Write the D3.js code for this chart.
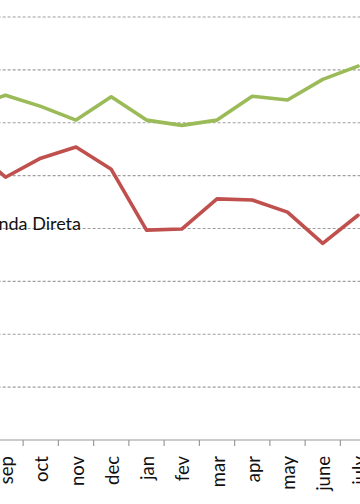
<!DOCTYPE html>
<html><head><meta charset="utf-8">
<script src="https://cdn.jsdelivr.net/npm/d3@7"></script>
<style>html,body{margin:0;padding:0;background:#fff;overflow:hidden}</style>
</head><body><svg id="c" width="360" height="504"></svg>
<script>
// Categories (aug lies just off the left edge of the cropped view)
const months = ["aug","sep","oct","nov","dec","jan","fev","mar","apr","may","june","july"];
// Green series values
const greenValues = [63.0, 65.2, 63.1, 60.5, 64.9, 60.5, 59.5, 60.5, 65.0, 64.3, 68.2, 70.7];
// Red series (Venda Direta) values
const redValues = [55.5, 49.7, 53.3, 55.4, 51.2, 39.7, 39.9, 45.6, 45.4, 43.1, 37.2, 42.5];
// Gridline tick values
const gridTicks = [10, 20, 30, 40, 50, 60, 70, 80, 90];
const seriesLabel = "Venda Direta";

const svg = d3.select("#c");
const W = 360, H = 504;
const step = 35.25;
const x0 = 5.5 - step * 1.5;
const x = d3.scaleBand().domain(months).range([x0, x0 + step * months.length]).padding(0);
const y = d3.scaleLinear().domain([0, 80]).range([440, 17]);
const cx = m => x(m) + x.bandwidth() / 2;

// gridlines
svg.append("g").selectAll("line").data(gridTicks).join("line")
  .attr("x1", x0).attr("x2", x0 + step * months.length + 40)
  .attr("y1", d => y(d)).attr("y2", d => y(d))
  .attr("stroke", "#9e9e9e").attr("stroke-width", 1.2)
  .attr("stroke-dasharray", "3,2");

// x axis line
svg.append("line").attr("x1", x0).attr("x2", W + 40)
  .attr("y1", y(0)).attr("y2", y(0))
  .attr("stroke", "#9a9a9a").attr("stroke-width", 1.2);

// ticks at category boundaries
svg.append("g").selectAll("line").data(months).join("line")
  .attr("x1", d => x(d)).attr("x2", d => x(d))
  .attr("y1", y(0)).attr("y2", y(0) + 6)
  .attr("stroke", "#9a9a9a").attr("stroke-width", 1.2);

// x labels
svg.append("g").selectAll("text").data(months).join("text")
  .attr("transform", d => `translate(${cx(d) + 7.5},${y(0) + 16}) rotate(-90)`)
  .attr("text-anchor", "end")
  .attr("font-family", "Lato, 'Open Sans', sans-serif")
  .attr("font-size", 18.5)
  .attr("fill", "#111")
  .text(d => d);

const line = d3.line().x((d, i) => cx(months[i])).y(d => y(d));

svg.append("path").datum(greenValues).attr("d", line)
  .attr("fill", "none").attr("stroke", "#9BBB59").attr("stroke-width", 3.6)
  .attr("stroke-linejoin", "round").attr("stroke-linecap", "round");

svg.append("path").datum(redValues).attr("d", line)
  .attr("fill", "none").attr("stroke", "#C0504D").attr("stroke-width", 3.6)
  .attr("stroke-linejoin", "round").attr("stroke-linecap", "round");

// series label
svg.append("text").attr("x", 81).attr("y", 230)
  .attr("text-anchor", "end")
  .attr("font-family", "Lato, 'Open Sans', sans-serif")
  .attr("font-size", 18)
  .attr("fill", "#111")
  .text(seriesLabel);
</script>
</body></html>
